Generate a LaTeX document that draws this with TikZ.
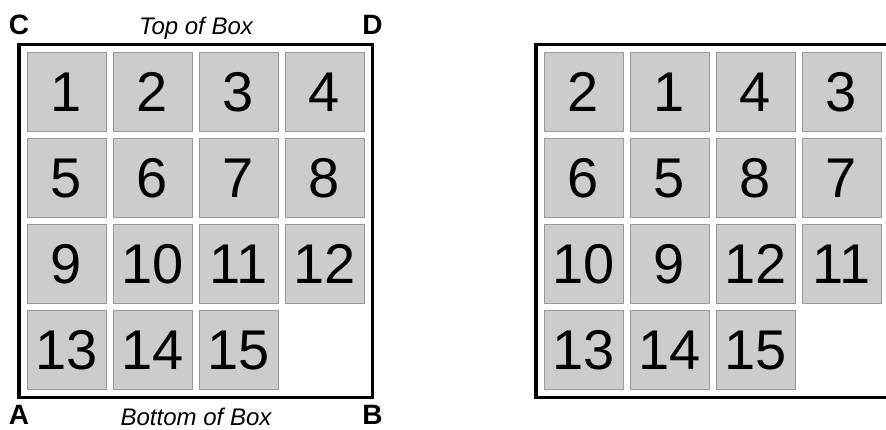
\documentclass[tikz,border=0pt]{standalone}
\usepackage{fontspec}
\setmainfont{Liberation Sans}
\begin{document}
\begin{tikzpicture}[x=1pt,y=-1pt,
  tile/.style={draw=black!40,line width=0.8pt,fill=black!20,minimum size=79pt,inner sep=0pt,anchor=center,text height=40pt,text depth=0pt,font=\fontsize{56}{56}\selectfont},
  boxframe/.style={draw=black,line width=3.5pt},
  corner/.style={font=\fontsize{28}{28}\selectfont\bfseries,anchor=base,inner sep=0pt},
  side/.style={font=\fontsize{24}{24}\selectfont\itshape,anchor=base,inner sep=0pt}]
\useasboundingbox (0,0) rectangle (886,430);
\clip (0,0) rectangle (886,430);
% left box
\draw[boxframe] (19,44.5) rectangle (372.5,397.5);
\foreach \n [count=\k from 0] in {1,...,15}{
  \pgfmathtruncatemacro{\c}{mod(\k,4)}
  \pgfmathtruncatemacro{\r}{div(\k,4)}
  \node[tile] (L\n) at ({27+39.5+86*\c},{52+39.5+86*\r}) {\n};
}
% right box
\draw[boxframe] (536,44.5) rectangle (889.5,397.5);
\foreach \n [count=\k from 0] in {2,1,4,3,6,5,8,7,10,9,12,11,13,14,15}{
  \pgfmathtruncatemacro{\c}{mod(\k,4)}
  \pgfmathtruncatemacro{\r}{div(\k,4)}
  \node[tile] (R\n) at ({544+39.5+86*\c},{52+39.5+86*\r}) {\n};
}
% labels
\node[corner] (C) at (19,35) {C};
\node[side] (top) at (196,35) {Top of Box};
\node[corner] (D) at (372.5,35) {D};
\node[corner] (A) at (19,424) {A};
\node[side] (bottom) at (196,425) {Bottom of Box};
\node[corner] (B) at (372.5,424.5) {B};
\end{tikzpicture}
\end{document}
